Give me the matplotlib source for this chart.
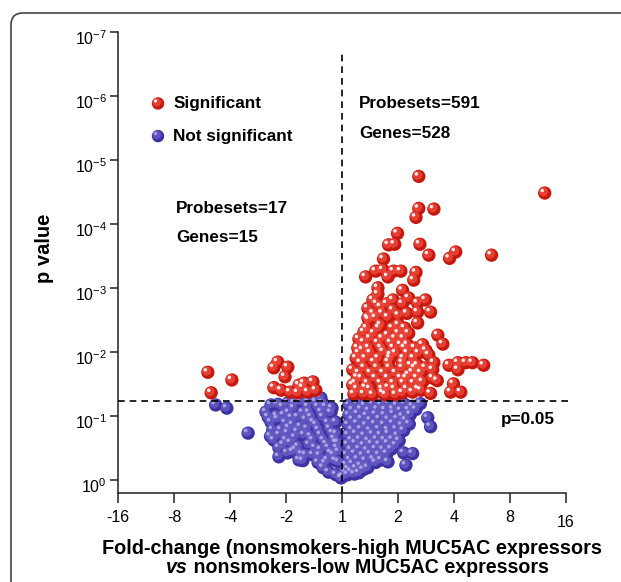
import numpy as np
import matplotlib
matplotlib.use("Agg")
import matplotlib.pyplot as plt
from matplotlib.transforms import offset_copy, ScaledTranslation
from matplotlib.path import Path
from matplotlib.patches import PathPatch

plt.rcParams['font.family'] = ['Liberation Sans', 'DejaVu Sans']
plt.rcParams['mathtext.fontset'] = 'custom'
plt.rcParams['mathtext.rm'] = 'Liberation Sans'

# log2 fold-change and -log10(p)
sig_log2fc = [1.37, 3.62, 1.37, 1.64, 1.32, 0.99, 0.83, 0.94, 1.39, 1.55, 1.92, 2.03, 2.67,
              0.74, 0.42, 0.60, 0.73, 0.82, 0.92, 1.05, 1.32, 1.28, 0.64, 0.64, 1.08, 1.19,
              1.49, 1.35, 1.58, 1.35, 0.55, 0.46, 0.69, 0.91, 0.91, 0.82, 1.01, 0.46, 0.60,
              1.35, 1.01, 0.69, 0.48, 1.71, 1.80, 0.39, 0.57, 0.82, 1.01, 1.19, 0.39, 0.64,
              0.87, 1.17, 0.30, 0.51, 0.74, 0.96, 1.17, 1.37, 0.33, 0.57, 0.83, 1.08, 1.35,
              1.64, 1.91, 2.07, 2.21, 2.33, 2.53, 2.07, 0.30, 0.51, 0.74, 0.96, 1.19, 1.41,
              1.62, 0.24, 0.46, 0.69, 0.92, 1.10, 1.28, 1.44, 1.99, 1.94, 2.12, 0.21, 0.39,
              0.73, 1.08, 1.26, 1.41, 0.19, 0.19, 0.37, 0.65, 0.87, 1.05, 1.23, 0.78, 0.96,
              0.55, 0.42, 0.60, 0.83, 1.05, 1.26, 1.49, 1.44, 1.55, 1.58, 0.30, 0.27, 0.25,
              0.27, 0.50, 0.72, 0.94, 1.16, 1.36, 0.35, 0.82, 1.15, 1.34,
              0.40, 0.63, 0.85, 1.08, 1.30, 0.42, 0.86, 1.10, 1.28,
              0.28, 0.48, 0.70, 0.92, 1.12, 1.30, 0.50, 0.72, 0.95, 1.10,
              0.44, 0.66, 0.90, 1.12, 0.56, 0.72, 1.16, 0.62, 0.80, 1.08,
              1.50, 1.62, 1.70,
              # left side
              -2.40, -1.97, -2.34, -1.15, -1.22, -0.97, -1.02, -1.22, -1.09, -0.77, -0.68,
              -0.52, -0.79, -0.61, -0.47, -0.70, -0.93]
sig_nlogp = [4.74, 4.48, 4.24, 4.23, 4.10, 3.85, 3.67, 3.68, 3.68, 3.51, 3.46, 3.56, 3.51,
             3.45, 3.17, 3.26, 3.28, 3.17, 3.26, 3.26, 3.24, 3.12, 3.00, 2.90, 2.96, 2.84,
             2.81, 2.76, 2.62, 2.62, 2.81, 2.68, 2.70, 2.81, 2.65, 2.54, 2.57, 2.53, 2.53,
             2.45, 2.42, 2.42, 2.50, 2.26, 2.12, 2.31, 2.29, 2.26, 2.29, 2.29, 2.15, 2.14,
             2.14, 2.11, 1.98, 1.98, 2.00, 1.98, 1.98, 1.98, 1.83, 1.84, 1.84, 1.83, 1.79,
             1.83, 1.79, 1.83, 1.83, 1.83, 1.79, 1.72, 1.67, 1.67, 1.67, 1.67, 1.64, 1.67,
             1.59, 1.51, 1.51, 1.51, 1.51, 1.51, 1.51, 1.53, 1.50, 1.37, 1.37, 1.34, 1.34,
             1.36, 1.36, 1.37, 1.40, 1.72, 1.48, 2.03, 1.90, 1.95, 2.11, 1.79, 1.33, 1.33,
             1.33, 1.44, 1.59, 1.44, 1.59, 1.68, 1.75, 2.11, 1.95, 1.35, 2.20, 1.60, 1.90,
             1.42, 1.42, 1.42, 1.42, 1.42, 1.42, 1.59, 1.59, 1.59, 1.59,
             1.75, 1.75, 1.75, 1.75, 1.75, 1.90, 1.90, 1.90, 1.90,
             2.06, 2.06, 2.06, 2.06, 2.06, 2.06, 2.21, 2.21, 2.21, 2.21,
             2.37, 2.37, 2.37, 2.37, 2.60, 2.60, 2.60, 2.75, 2.75, 2.75,
             2.02, 1.72, 1.55,
             1.68, 1.56, 1.36, 1.84, 1.75, 1.76, 1.61, 1.44, 1.40, 1.48, 1.51,
             1.53, 1.36, 1.37, 1.40, 1.44, 1.37]

ns_log2fc = [-2.26, -2.06, -1.68, -1.36, -1.27, -1.24, -1.22, -1.13, -1.13, -1.06, -1.04,
             -1.01, -0.97, -0.92, -0.88, -0.77, -0.86, -0.79, -0.74, -0.68, -0.59, -0.52,
             -0.43, -0.34, -0.24, -0.11, -0.02, -0.61, -0.59, -0.51, -0.42, -0.33, -0.24,
             -0.15, -0.06, -0.43, -0.34, -0.25, -0.17, -0.11, -0.06, -0.29, -0.20, -0.11,
             -0.10, -0.07, -1.27, -0.97, -0.74, -0.47, -1.09, -0.83, -0.65, -0.38, -0.26,
             -0.52, -0.88, -0.65, -1.17, -0.95, -0.38,
             -1.15, -1.12, -1.05, -0.98, -1.00, -0.95, -0.90, -0.84, -0.78, -0.72, -0.70,
             -0.80, -0.70, -0.62, -0.56, -0.48, -0.40, -0.30, -0.55, -0.46, -0.38, -0.28,
             -0.20, -0.12, -0.37, -0.22, -0.14, -0.09, -1.15, -0.85, -0.60, -0.35, -0.18,
             -1.32, -1.28,
             # right side
             0.12, 0.27, 0.41, 0.55, 0.70, 0.84, 0.98, 1.12, 1.26, 1.40,
             0.12, 0.28, 0.44, 0.60, 0.76, 0.92, 1.08, 1.22,
             0.11, 0.27, 0.43, 0.59, 0.75, 0.91, 1.07, 1.20,
             0.11, 0.25, 0.40, 0.55, 0.69, 0.83, 0.99,
             0.10, 0.24, 0.39, 0.53, 0.67, 0.82, 0.96,
             0.08, 0.23, 0.37, 0.51, 0.66, 0.80,
             0.07, 0.19, 0.33, 0.05, 0.16,
             1.53, 1.58, 1.10, 1.26, 1.14, 0.82, 0.60, 0.46, 0.30, 0.01,
             0.19, 0.34, 0.48, 0.63, 0.77, 0.91, 1.05, 1.19, 1.32,
             0.19, 0.35, 0.51, 0.67, 0.83, 0.99, 1.14,
             0.18, 0.34, 0.50, 0.66, 0.82, 0.97, 1.10,
             0.17, 0.32, 0.47, 0.62, 0.76, 0.90, 1.02,
             0.16, 0.31, 0.45, 0.60, 0.74, 0.88,
             0.14, 0.28, 0.42, 0.56, 0.70,
             0.11, 0.25, 0.38, 0.10, 0.22]
ns_nlogp = [1.17, 1.12, 0.73, 1.06, 0.90, 0.78, 0.62, 0.50, 0.36, 1.14, 1.01,
            0.89, 0.73, 0.58, 0.44, 0.31, 1.12, 0.98, 0.83, 0.70, 0.55, 0.39,
            0.27, 0.19, 0.12, 0.08, 0.03, 1.14, 1.05, 0.90, 0.78, 0.62, 0.50,
            0.39, 0.28, 1.14, 0.98, 0.89, 0.73, 0.58, 0.44, 1.14, 1.05, 0.90,
            0.72, 0.58, 1.17, 1.20, 1.22, 1.22, 0.78, 0.47, 0.39, 0.47, 0.31,
            0.62, 0.86, 0.94, 1.00, 1.05, 1.28,
            0.95, 0.70, 0.55, 0.42, 0.62, 0.81, 0.97, 0.66, 0.52, 0.40, 0.30,
            0.75, 1.05, 0.80, 0.68, 0.50, 0.38, 0.26, 0.98, 0.86, 0.70, 0.56,
            0.42, 0.30, 1.06, 0.80, 0.64, 0.50, 1.18, 1.20, 1.22, 1.20, 1.12,
            0.98, 0.68,
            1.17, 1.19, 1.16, 1.18, 1.17, 1.19, 1.16, 1.18, 1.15, 1.19,
            1.01, 1.03, 1.00, 1.02, 1.01, 1.03, 0.99, 1.02,
            0.86, 0.88, 0.85, 0.87, 0.86, 0.88, 0.85, 0.87,
            0.70, 0.72, 0.69, 0.71, 0.70, 0.72, 0.69,
            0.55, 0.57, 0.54, 0.56, 0.55, 0.57, 0.54,
            0.39, 0.41, 0.38, 0.40, 0.39, 0.41,
            0.23, 0.25, 0.22, 0.12, 0.13,
            0.97, 0.83, 0.42, 0.41, 0.23, 0.28, 0.27, 0.19, 0.11, 0.05,
            1.09, 1.10, 1.08, 1.10, 1.09, 1.10, 1.08, 1.09, 1.10,
            0.94, 0.95, 0.93, 0.95, 0.94, 0.95, 0.93,
            0.78, 0.79, 0.77, 0.79, 0.78, 0.79, 0.77,
            0.62, 0.63, 0.61, 0.63, 0.62, 0.63, 0.61,
            0.47, 0.48, 0.46, 0.48, 0.47, 0.48,
            0.31, 0.32, 0.30, 0.32, 0.31,
            0.17, 0.18, 0.16, 0.08, 0.09]

xtick_pos = [-4, -3, -2, -1, 0, 1, 2, 3, 4]
xtick_labels = ['-16', '-8', '-4', '-2', '1', '2', '4', '8', '16']
ytick_exp = [0, -1, -2, -3, -4, -5, -6, -7]
p_cut = 0.058

RED = ('#c8170d', '#f04c40', '#ffffff', 0.9)
BLUE = ('#3d31a3', '#6a60c8', '#c9c4f0', 0.7)

fig = plt.figure(figsize=(6.21, 5.82), dpi=100)
ax = fig.add_axes([0.1905, 0.1524, 0.7209, 0.7931])


def spheres(x, y, cols, z, s=92):
    ax.scatter(x, y, s=s, c=cols[0], edgecolors='none', zorder=z, clip_on=False)
    tr = offset_copy(ax.transData, fig=fig, x=-0.9, y=0.9, units='points')
    ax.scatter(x, y, s=s * 0.5, c=cols[1], edgecolors='none', alpha=0.75,
               transform=tr, zorder=z + 0.1, clip_on=False)
    tr2 = offset_copy(ax.transData, fig=fig, x=-1.8, y=1.8, units='points')
    ax.scatter(x, y, s=s * 0.07, c=cols[2], edgecolors='none', alpha=cols[3],
               transform=tr2, zorder=z + 0.2, clip_on=False)


spheres(ns_log2fc, 10 ** -np.array(ns_nlogp), BLUE, 2)
spheres(sig_log2fc, 10 ** -np.array(sig_nlogp), RED, 4)

ax.set_yscale('log')
ax.set_xlim(-4, 4)
ax.set_ylim(10 ** 0.21, 1e-7)

# threshold lines
ax.plot([-4, 4.08], [p_cut, p_cut], ls=(0, (4, 3)), color='black', lw=1.2,
        zorder=10, clip_on=False)
ax.plot([0, 0], [10 ** 0.21, 10 ** -6.68], ls=(0, (4, 3)), color='black', lw=1.2,
        zorder=10)

ax.set_xticks(xtick_pos, xtick_labels)
ax.set_yticks([10.0 ** e for e in ytick_exp],
              [r'$\mathdefault{10^{%d}}$' % e for e in ytick_exp])
ax.minorticks_off()
ax.tick_params(axis='both', direction='out', length=6, width=1.1, labelsize=11.5,
               color='#222222')
ax.tick_params(axis='x', length=7, pad=5)
ax.tick_params(axis='y', pad=2)
for sp in ['top', 'right']:
    ax.spines[sp].set_visible(False)
for sp in ['left', 'bottom']:
    ax.spines[sp].set_linewidth(1.1)
    ax.spines[sp].set_color('#222222')

ax.set_ylabel('p value', fontsize=14.5, fontweight='bold')
ax.yaxis.set_label_coords(-0.143, 0.53)

fig.text(0.567, 0.058, 'Fold-change (nonsmokers-high MUC5AC expressors',
         ha='center', va='center', fontsize=14.3, fontweight='bold')
t_vs = fig.text(0.268, 0.025, 'vs', ha='left', va='center', fontsize=14.1,
                fontweight='bold', style='italic')
ax.annotate(' nonsmokers-low MUC5AC expressors', xy=(1, 0.5), xycoords=t_vs,
            ha='left', va='center', fontsize=14.1, fontweight='bold',
            annotation_clip=False)

# legend
spheres([-3.29], [10 ** -5.88], RED, 12, s=80)
spheres([-3.29], [10 ** -5.37], BLUE, 12, s=80)
lab_kw = dict(fontsize=12.3, fontweight='bold', va='center')
ax.text(-3.02, 10 ** -5.88, 'Significant', **lab_kw)
ax.text(-3.02, 10 ** -5.37, 'Not significant', **lab_kw)

ax.text(0.30, 10 ** -5.88, 'Probesets=591', **lab_kw)
ax.text(0.30, 10 ** -5.41, 'Genes=528', **lab_kw)
ax.text(-2.97, 10 ** -4.24, 'Probesets=17', **lab_kw)
ax.text(-2.97, 10 ** -3.78, 'Genes=15', **lab_kw)
ax.text(2.83, 10 ** -0.94, 'p=0.05', **lab_kw)

# outer frame with one rounded corner; it runs off the right and bottom edges
fx, fy, r = 0.11, 5.82 - 0.13, 0.12
frame_path = Path([(fx, -1.0), (fx, fy - r), (fx, fy), (fx + r, fy), (9.0, fy)],
                  [Path.MOVETO, Path.LINETO, Path.CURVE3, Path.CURVE3, Path.LINETO])
fig.add_artist(PathPatch(frame_path, transform=fig.dpi_scale_trans, fill=False,
                         edgecolor='#444444', linewidth=1.2))

# label offsets seen in the original
for lbl in ax.get_yticklabels():
    lbl.set_transform(lbl.get_transform() + ScaledTranslation(0, -5 / 100, fig.dpi_scale_trans))
xl = ax.get_xticklabels()
xl[-1].set_transform(xl[-1].get_transform() + ScaledTranslation(0, -5 / 100, fig.dpi_scale_trans))

fig.savefig('out.png', dpi=100)
